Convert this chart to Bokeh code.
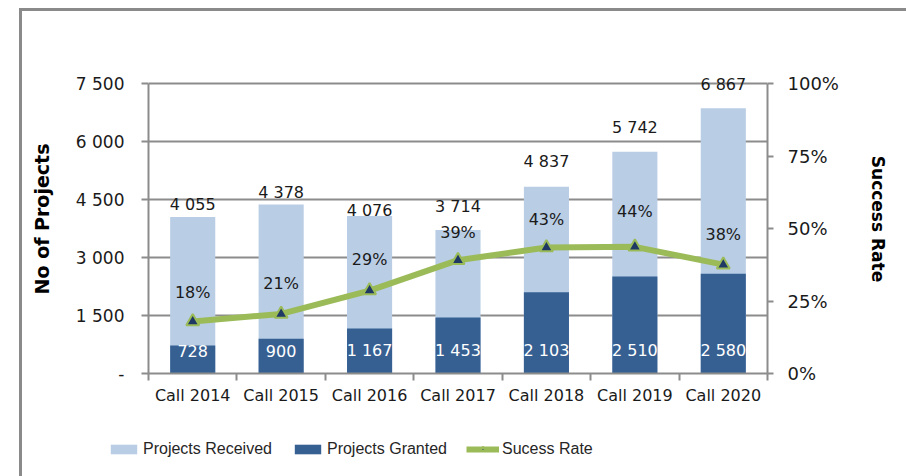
from bokeh.plotting import figure
from bokeh.layouts import column
from bokeh.models import (ColumnDataSource, Range1d, LinearAxis, FixedTicker,
                          Legend, LegendItem, InlineStyleSheet)
from bokeh.core.properties import value
from bokeh.embed import file_html
from bokeh.resources import INLINE

# ---- data ----
categories = ["Call 2014", "Call 2015", "Call 2016", "Call 2017", "Call 2018", "Call 2019", "Call 2020"]
received = [4055, 4378, 4076, 3714, 4837, 5742, 6867]
granted = [728, 900, 1167, 1453, 2103, 2510, 2580]
received_labels = ["4 055", "4 378", "4 076", "3 714", "4 837", "5 742", "6 867"]
granted_labels = ["728", "900", "1 167", "1 453", "2 103", "2 510", "2 580"]
rate_labels = ["18%", "21%", "29%", "39%", "43%", "44%", "38%"]
left_ticks = [0, 1500, 3000, 4500, 6000, 7500]
left_tick_labels = ["-", "1 500", "3 000", "4 500", "6 000", "7 500"]
right_ticks = [0, 0.25, 0.5, 0.75, 1.0]
right_tick_labels = ["0%", "25%", "50%", "75%", "100%"]

# label placement (screen px above anchor)
received_label_lift = [12, 12, 6, 24, 25, 24, 24]
rate_label_lift = [29, 30, 31, 28, 28, 35, 30]

rate = [g / r for g, r in zip(granted, received)]
xs = [i + 0.5 for i in range(len(categories))]

src = ColumnDataSource(dict(
    x=xs, received=received, granted=granted, rate=rate,
    rl=received_labels, gl=granted_labels, pl=rate_labels,
    rl_off=[-v for v in received_label_lift],
    pl_off=[-v for v in rate_label_lift],
    g0=[0] * len(xs),
))

FONT = "DejaVu Sans"
TXT = "#1a1a1a"
GRID = "#8c8c8c"
C_REC = "#B9CDE5"
C_GRA = "#376092"
C_LINE = "#9BBB59"
C_TRI = "#1F3864"

Y_MAX = 7500
Y_TOP = 8000          # headroom so the top label is not clipped
R_TOP = Y_TOP / Y_MAX

p = figure(width=890, height=430, output_backend="svg", toolbar_location=None,
           x_range=Range1d(0, len(categories)), y_range=Range1d(0, Y_TOP),
           min_border_left=148, min_border_right=121, min_border_top=64,
           min_border_bottom=57)
p.frame_align = False
p.outline_line_color = None
p.background_fill_color = "white"
p.border_fill_color = "white"
p.xgrid.grid_line_color = None
p.ygrid.grid_line_color = GRID
p.ygrid.grid_line_width = 2

p.extra_y_ranges = {"rate": Range1d(0, R_TOP)}

# bars
r_rec = p.vbar(x="x", top="received", width=0.51, source=src, color=C_REC, line_color=None)
r_gra = p.vbar(x="x", top="granted", width=0.51, source=src, color=C_GRA, line_color=None)

# labels
p.text(x="x", y="received", text="rl", source=src, y_offset="rl_off",
       text_align="center", text_baseline="middle", text_font=value(FONT),
       text_font_size="16px", text_color=TXT)
p.text(x="x", y="g0", text="gl", source=src, y_offset=-23,
       text_align="center", text_baseline="middle", text_font=value(FONT),
       text_font_size="16px", text_color="white")

# rate line
r_line = p.line(x="x", y="rate", source=src, y_range_name="rate", color=C_LINE, line_width=6)
r_pts = p.scatter(x="x", y="rate", source=src, y_range_name="rate", marker="triangle",
                  size=13, fill_color=C_TRI, line_color=C_LINE, line_width=2)
p.text(x="x", y="rate", text="pl", source=src, y_range_name="rate", y_offset="pl_off",
       text_align="center", text_baseline="middle", text_font=value(FONT),
       text_font_size="16px", text_color=TXT)

# x axis
xa = p.xaxis[0]
xa.ticker = FixedTicker(ticks=xs, minor_ticks=list(range(len(categories) + 1)))
xa.major_label_overrides = {x: c for x, c in zip(xs, categories)}
xa.major_tick_out = 0
xa.major_tick_in = 0
xa.minor_tick_out = 7
xa.minor_tick_in = 0
xa.minor_tick_line_color = GRID
xa.minor_tick_line_width = 2
xa.axis_line_color = GRID
xa.axis_line_width = 2
xa.major_label_standoff = 5
xa.major_label_text_font = FONT
xa.major_label_text_font_size = "16px"
xa.major_label_text_color = TXT

# left axis
ya = p.yaxis[0]
ya.ticker = FixedTicker(ticks=left_ticks, minor_ticks=[])
ya.bounds = (0, Y_MAX)
ya.major_label_overrides = {t: l for t, l in zip(left_ticks, left_tick_labels)}
ya.major_tick_out = 7
ya.major_tick_in = 0
ya.major_tick_line_color = GRID
ya.major_tick_line_width = 2
ya.minor_tick_line_color = None
ya.axis_line_color = GRID
ya.axis_line_width = 2
ya.major_label_standoff = 17
ya.major_label_text_font = FONT
ya.major_label_text_font_size = "17px"
ya.major_label_text_color = TXT
ya.axis_label = "No of Projects"
ya.axis_label_text_font = FONT
ya.axis_label_text_font_size = "19px"
ya.axis_label_text_font_style = "bold"
ya.axis_label_text_color = "black"
ya.axis_label_standoff = 20

# right axis
ra = LinearAxis(y_range_name="rate", ticker=FixedTicker(ticks=right_ticks, minor_ticks=[]))
ra.bounds = (0, 1)
ra.major_label_overrides = {t: l for t, l in zip(right_ticks, right_tick_labels)}
ra.major_tick_out = 6
ra.major_tick_in = 0
ra.major_tick_line_color = GRID
ra.major_tick_line_width = 2
ra.minor_tick_line_color = None
ra.axis_line_color = GRID
ra.axis_line_width = 2
ra.major_label_standoff = 14
ra.major_label_text_font = FONT
ra.major_label_text_font_size = "18px"
ra.major_label_text_color = TXT
ra.axis_label = "Success Rate"
ra.axis_label_text_font = FONT
ra.axis_label_text_font_size = "17px"
ra.axis_label_text_font_style = "bold"
ra.axis_label_text_color = "black"
ra.axis_label_standoff = 26
p.add_layout(ra, "right")

# legend strip: a second figure (same data, drawn out of view) so the legend
# is not clipped by the chart frame
lg = figure(width=890, height=40, output_backend="svg", toolbar_location=None,
            x_axis_type=None, y_axis_type=None,
            x_range=Range1d(-100, -99), y_range=Range1d(0, 1),
            min_border=0, min_border_left=0, min_border_right=0,
            min_border_top=0, min_border_bottom=0)
lg.frame_align = False
lg.grid.visible = False
lg.outline_line_color = None
lg.border_fill_color = "white"
l_rec = lg.vbar(x="x", top="received", width=0.51, source=src, color=C_REC, line_color=None)
l_gra = lg.vbar(x="x", top="granted", width=0.51, source=src, color=C_GRA, line_color=None)
l_line = lg.line(x="x", y="rate", source=src, color=C_LINE, line_width=6)
l_pts = lg.scatter(x="x", y="rate", source=src, marker="triangle", size=12,
                   fill_color=C_TRI, line_color=C_LINE, line_width=2)

legend = Legend(items=[
    LegendItem(label="Projects Received", renderers=[l_rec]),
    LegendItem(label="Projects Granted", renderers=[l_gra]),
    LegendItem(label="Sucess Rate", renderers=[l_line, l_pts]),
], orientation="horizontal", location=(107, 11))
legend.padding = 0
legend.margin = 0
legend.spacing = 19
legend.glyph_width = 33
legend.glyph_height = 12
legend.label_height = 20
legend.label_standoff = 3
legend.label_text_font = "Liberation Sans"
legend.label_text_font_size = "16px"
legend.label_text_color = "#262626"
legend.border_line_color = None
legend.background_fill_alpha = 0
lg.add_layout(legend)

layout = column(p, lg, spacing=0)
layout.stylesheets = [InlineStyleSheet(css=":host{position:relative;} :host::after{content:'';position:absolute;left:19px;top:8px;right:-40px;bottom:-40px;border-left:3px solid #8a8a8a;border-top:3px solid #8a8a8a;pointer-events:none;}")]

open("out.html", "w").write(file_html(layout, INLINE))
